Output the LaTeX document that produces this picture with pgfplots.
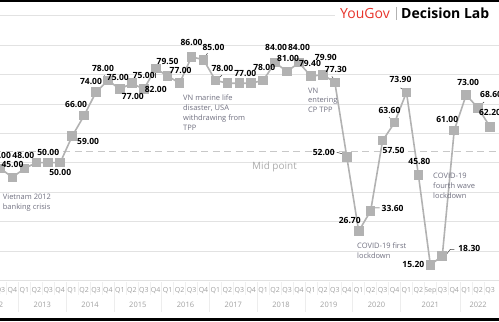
\documentclass[border=0pt]{standalone}
\usepackage{pgfplots}
\pgfplotsset{compat=1.18}
\usepackage{pgfplotstable}
\usepackage{fontspec}
\setmainfont{Open Sans}

\definecolor{linegray}{RGB}{178,178,178}
\definecolor{anno}{RGB}{112,112,128}
\definecolor{ygred}{RGB}{232,52,44}
\definecolor{gridc}{RGB}{226,226,226}
\definecolor{ticktxt}{RGB}{160,160,160}

\pgfplotstableread{
i v
0 48
1 45
2 48
3 50
4 50
5 50
6 59
7 66
8 74
9 78
10 75
11 77
12 75
13 82
14 79.5
15 77
16 86
17 85
18 78
19 77
20 77
21 77
22 78
23 84
24 81
25 84
26 79.4
27 79.9
28 77.3
29 52
30 26.7
31 33.6
32 57.5
33 63.6
34 73.9
35 45.8
36 15.2
37 18.3
38 61
39 73
40 68.6
41 62.2
}\series

\pgfplotstableread{
i v lab dx dy
0 48 48.00 -0.5 13.5
1 45 45.00 0 13
2 48 48.00 -1 13.5
4 50 50.00 0 10
5 50 50.00 0 -10
6 59 59.00 16 -5
7 66 66.00 -8 11.5
8 74 74.00 -5 11
9 78 78.00 -5 12
10 75 75.00 -2 12
11 77 77.00 1 -13
12 75 75.00 0 14
13 82 82.00 0 -21
14 79.5 79.50 0 14
15 77 77.00 1 13
16 86 86.00 0 14
17 85 85.00 10 12
18 78 78.00 7 12
20 77 77.00 6 10
22 78 78.00 1 13
23 84 84.00 1 15
24 81 81.00 1 13.5
25 84 84.00 0 15
26 79.4 79.40 -1 13
27 79.9 79.90 3 17
28 77.3 77.30 1 13
29 52 52.00 -23 4
30 26.7 26.70 -9 11
31 33.6 33.60 22 2
32 57.5 57.50 11 -10
33 63.6 63.60 -5 12
34 73.9 73.90 -6 13
35 45.8 45.80 1 14
36 15.2 15.20 -17 0
37 18.3 18.30 27 7
38 61 61.00 -7 11
39 73 73.00 2 13
40 68.6 68.60 13 13
41 62.2 62.20 0 14
}\labels

\begin{document}
\begin{tikzpicture}
\begin{axis}[
  x=11.94pt, y=2.94pt,
  xmin=-1.5, xmax=42.5, ymin=10, ymax=100,
  axis line style={draw=none},
  tick style={draw=none},
  ytick={10,20,...,100}, yticklabels={},
  ymajorgrids, grid style={gridc, line width=0.6pt},
  xtick={0,...,41},
  xticklabels={Q3,Q4,Q1,Q2,Q3,Q4,Q1,Q2,Q3,Q4,Q1,Q2,Q3,Q4,Q1,Q2,Q3,Q4,Q1,Q2,Q3,Q4,Q1,Q2,Q3,Q4,Q1,Q2,Q3,Q4,Q1,Q2,Q3,Q4,Q1,Q2,Sep,Q3,Q4,Q1,Q2,Q3},
  xticklabel style={font=\fontsize{7}{8}\selectfont, text=ticktxt, anchor=base, yshift=-12pt, inner sep=0pt},
  clip=false,
]
\coordinate (O) at (axis cs:-0.0419,105.32);
\coordinate (BR) at (axis cs:41.75,-3.861);
\draw[color={rgb,255:red,200;green,200;blue,200}, line width=1pt, dash pattern=on 7pt off 4.5pt] (axis cs:-1.5,53.8) -- (axis cs:42.5,53.8);
\addplot[color=linegray, line width=1.6pt, mark=square*, mark size=4pt, mark options={fill=linegray, draw=none}] table[x=i,y=v]{\series};
\addplot[draw=none, mark=none,
  nodes near coords,
  point meta=explicit symbolic,
  visualization depends on={\thisrow{dx}\as\dx},
  visualization depends on={\thisrow{dy}\as\dy},
  nodes near coords style={anchor=center, xshift=\dx, yshift=\dy, font=\fontsize{8.5}{10}\selectfont\bfseries, text=black, inner sep=0pt},
] table[x=i, y=v, meta=lab] {\labels};
% leader lines
\tikzset{leader/.style={draw=black!75, line width=0.5pt}}
\draw[leader] (axis cs:9,78) ++(-4pt,5pt) -- ++(3pt,-3.5pt);
\draw[leader] (axis cs:17,85) ++(4pt,6.5pt) -- ++(-3.5pt,-5pt);
\draw[leader] (axis cs:18,78) ++(6.5pt,5.3pt) -- ++(-5pt,-5pt);
\draw[leader] (axis cs:13,82) ++(-0.5pt,-4pt) -- ++(0pt,-5.5pt);
\draw[leader] (axis cs:29,52) ++(-10pt,4.5pt) -- ++(7pt,-2pt);
\draw[leader] (axis cs:31,33.6) ++(2pt,0pt) -- ++(2pt,3pt) -- ++(5pt,0pt);
\draw[leader] (axis cs:33,63.6) ++(-5.5pt,5.5pt) -- ++(4pt,-4pt);
\draw[leader] (axis cs:34,73.9) ++(-6pt,4.5pt) -- ++(4.5pt,-3pt);
\draw[leader] (axis cs:37,18.3) ++(3pt,0pt) -- ++(5pt,6.5pt) -- ++(4pt,0pt);
\draw[leader] (axis cs:40,68.6) ++(6pt,6pt) -- ++(-4.5pt,-4.5pt);
\draw[leader] (axis cs:28,77.3) ++(-3pt,6pt) -- ++(2.5pt,-3.5pt);
\end{axis}

\begin{scope}[shift={(O)}, x=1pt, y=-1pt]
  % separators in tick label area
  \foreach \k in {0,...,40} \draw[gray!12, line width=0.5pt] ({6.47+11.94*\k},282) -- ++(0,13);
  \foreach \k in {1,5,9,13,17,21,25,29,33,38} \draw[gray!14, line width=0.5pt] ({6.47+11.94*\k},282) -- ++(0,30);
  % year labels
  \foreach \xx/\yy in {-5.5/2012,42.3/2013,90.05/2014,137.8/2015,185.5/2016,233.3/2017,281.0/2018,328.8/2019,376.5/2020,430.3/2021,478.1/2022}
    \node[anchor=base, inner sep=0pt, font=\fontsize{7.5}{8}\selectfont, text=ticktxt] at (\xx,307.5) {\yy};
  % annotations
  \begin{scope}[every node/.style={anchor=base west, inner sep=0pt, font=\fontsize{7.5}{10}\selectfont, text=anno}]
    \node at (2.7,199) {Vietnam 2012};
    \node at (2.7,209.5) {banking crisis};
    \node at (183,100.5) {VN marine life};
    \node at (183,110.5) {disaster, USA};
    \node at (183,120.5) {withdrawing from};
    \node at (183,130.5) {TPP};
    \node at (308,93.5) {VN};
    \node at (308,103) {entering};
    \node at (308,112.5) {CP TPP};
    \node at (357,248.5) {COVID-19 first};
    \node at (357,258.5) {lockdown};
    \node at (433,178.5) {COVID-19};
    \node at (433,188.5) {fourth wave};
    \node at (433,198.5) {lockdown};
  \end{scope}
  \node[anchor=base west, inner sep=0pt, font=\fontsize{10}{12}\selectfont, text=gray!65] at (252,169) {Mid point};
  % logo
  \fill[white] (335,2) rectangle (499,30);
  \node[anchor=base west, inner sep=0pt, font=\fontsize{14}{16}\selectfont, text=ygred] at (340,18.5) {YouGov};
  \draw[gray!60, line width=0.5pt] (396,7) -- (396,20);
  \node[anchor=base west, inner sep=0pt, font=\fontsize{14}{16}\selectfont\bfseries, text=black] at (401,18.5) {Decision Lab};
  % frame bars
  \fill[black] (0,0) rectangle (499,2);
  \fill[black] (0,318) rectangle (499,321);
\end{scope}
\pgfresetboundingbox
\path[use as bounding box] (O) rectangle (BR);
\end{tikzpicture}
\end{document}
